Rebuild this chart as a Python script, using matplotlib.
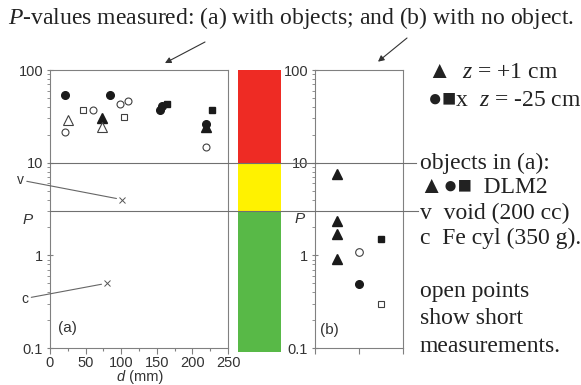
import numpy as np
import matplotlib.pyplot as plt
from matplotlib import transforms
from matplotlib.lines import Line2D
from matplotlib.ticker import FixedLocator, LogLocator, NullFormatter, FuncFormatter, MultipleLocator

plt.rcParams['font.family'] = 'Liberation Sans'
plt.rcParams['mathtext.fontset'] = 'custom'
plt.rcParams['mathtext.rm'] = 'Liberation Serif'
plt.rcParams['mathtext.it'] = 'Liberation Serif:italic'

#* panel (a): P vs distance d (mm), with objects
a_full_circle_d = [21, 84, 154, 157, 219]
a_full_circle_P = [54, 54, 37, 41, 26.4]
a_full_tri_d = [73, 219]
a_full_tri_P = [30, 24.2]
a_full_sq_d = [164, 228]
a_full_sq_P = [43.3, 37.3]
a_open_circle_d = [21, 60, 98, 109, 219]
a_open_circle_P = [21.4, 37, 43, 46, 14.6]
a_open_tri_d = [25, 73]
a_open_tri_P = [29, 24.2]
a_open_sq_d = [47, 104]
a_open_sq_P = [37.3, 31]
cross_labels = ['v', 'c']
cross_d = [101, 80]
cross_P = [4.0, 0.5]
cross_label_offsets = [(-73, 14), (-59, -11)]   # points

#* panel (b): no object, columns by marker type
b_tri_x = [0.5, 0.5, 0.5, 0.5]
b_tri_P = [7.6, 2.33, 1.71, 0.905]
b_full_circle_x = [1.0]
b_full_circle_P = [0.495]
b_open_circle_x = [1.0]
b_open_circle_P = [1.09]
b_full_sq_x = [1.5]
b_full_sq_P = [1.49]
b_open_sq_x = [1.5]
b_open_sq_P = [0.30]

#* colour bands and thresholds
band_lo = [0.09, 3, 10]
band_hi = [3, 10, 100]
band_colors = ['#58b947', '#fff200', '#ee2b24']
thresholds = [10, 3]
threshold_ends = [416, 418]   # pixels

W, H = 581, 385
fig = plt.figure(figsize=(W / 100, H / 100), dpi=100)

def px_axes(x0, y0, x1, y1):
    return fig.add_axes([x0 / W, 1 - y1 / H, (x1 - x0) / W, (y1 - y0) / H])

ax_a = px_axes(50, 70, 228, 348)
ax_bar = px_axes(238, 70, 281, 348)
ax_b = px_axes(315, 70, 403, 348)

GREY = '#808080'
TXT = '#333333'

def style_log_axes(ax):
    ax.set_yscale('log')
    ax.set_ylim(0.1, 100)
    for sp in ax.spines.values():
        sp.set_color(GREY)
        sp.set_linewidth(0.8)
    ax.yaxis.set_major_locator(FixedLocator([0.1, 1, 10, 100]))
    ax.yaxis.set_major_formatter(FuncFormatter(lambda v, p: f'{v:g}'))
    ax.yaxis.set_minor_locator(LogLocator(base=10, subs=np.arange(2, 10)))
    ax.yaxis.set_minor_formatter(NullFormatter())
    ax.tick_params(axis='y', which='major', direction='inout', length=5, width=0.8,
                   color=GREY, labelsize=10.5, labelcolor=TXT, pad=2.5)
    ax.tick_params(axis='y', which='minor', direction='out', length=2.5, width=0.6, color=GREY)
    ax.tick_params(axis='x', which='both', direction='out', color=GREY, width=0.8,
                   labelsize=10.5, labelcolor=TXT, pad=2)
    ax.tick_params(axis='x', which='major', length=4)
    ax.tick_params(axis='x', which='minor', length=2.5)
    ax.set_ylabel('P', rotation=0, fontstyle='italic', fontsize=11, color=TXT)
    ax.yaxis.label.set_va('center')

style_log_axes(ax_a)
style_log_axes(ax_b)

full = dict(ls='none', color='#1a1a1a')
hollow = dict(ls='none', mfc='white', mec='#404040', mew=0.8)

# (a)
ax_a.set_xlim(0, 250)
ax_a.xaxis.set_major_locator(MultipleLocator(50))
ax_a.xaxis.set_minor_locator(MultipleLocator(25))
ax_a.plot(a_full_circle_d, a_full_circle_P, marker='o', ms=5.5, **full)
ax_a.plot(a_full_tri_d, a_full_tri_P, marker='^', ms=6.5, **full)
ax_a.plot(a_full_sq_d, a_full_sq_P, marker='s', ms=5, **full)
ax_a.plot(a_open_circle_d, a_open_circle_P, marker='o', ms=5, **hollow)
ax_a.plot(a_open_tri_d, a_open_tri_P, marker='^', ms=6.5, **hollow)
ax_a.plot(a_open_sq_d, a_open_sq_P, marker='s', ms=5, **hollow)
ax_a.plot(cross_d, cross_P, ls='none', marker='x', ms=4.5, mew=0.7, color='#555555')
for lab, d, p, off in zip(cross_labels, cross_d, cross_P, cross_label_offsets):
    ax_a.annotate(lab, xy=(d, p), xytext=off, textcoords='offset points',
                  ha='center', va='center', fontsize=10, color=TXT,
                  arrowprops=dict(arrowstyle='-', color='#666666', lw=0.8, shrinkA=0, shrinkB=4))
# x label: italic d followed by upright units, sitting just under the tick labels
ax_a.text(0.421, -0.119, 'd', transform=ax_a.transAxes, ha='right', va='baseline',
          fontsize=10.5, fontstyle='italic', color=TXT)
ax_a.text(0.421, -0.119, ' (mm)', transform=ax_a.transAxes, ha='left', va='baseline',
          fontsize=10.5, color=TXT)
ax_a.yaxis.set_label_coords(-0.124, 0.46)
ax_a.text(0.096, 0.072, '(a)', transform=ax_a.transAxes, ha='center', va='center',
          fontsize=11, color=TXT)

# (b)
ax_b.set_xlim(0, 2)
ax_b.xaxis.set_major_locator(FixedLocator([0, 1, 2]))
ax_b.tick_params(axis='x', labelbottom=False)
ax_b.plot(b_tri_x, b_tri_P, marker='^', ms=7.5, **full)
ax_b.plot(b_full_circle_x, b_full_circle_P, marker='o', ms=5.5, **full)
ax_b.plot(b_open_circle_x, b_open_circle_P, marker='o', ms=5.5, **hollow)
ax_b.plot(b_full_sq_x, b_full_sq_P, marker='s', ms=5, **full)
ax_b.plot(b_open_sq_x, b_open_sq_P, marker='s', ms=5, **hollow)
ax_b.yaxis.set_label_coords(-0.17, 0.464)
ax_b.text(0.16, 0.065, '(b)', transform=ax_b.transAxes, ha='center', va='center',
          fontsize=11, color=TXT)

# colour bar between the panels
ax_bar.set_yscale('log')
ax_bar.set_ylim(0.1, 100)
ax_bar.set_xlim(-0.5, 0.5)
ax_bar.bar([0] * 3, np.array(band_hi) - np.array(band_lo), bottom=band_lo, width=1,
           color=band_colors, clip_on=False)
ax_bar.axis('off')

# threshold lines running across both panels
blend = transforms.blended_transform_factory(fig.transFigure, ax_a.transData)
for p, x_end in zip(thresholds, threshold_ends):
    fig.add_artist(Line2D([50 / W, x_end / W], [p, p], transform=blend,
                          color='#707070', lw=0.8))

# caption and pointers
serif = ['Liberation Serif', 'DejaVu Sans']
fig.text(0.5, 1 - 18 / H, r'$\mathit{P}$-values measured: (a) with objects; and (b) with no object.',
         ha='center', va='center', fontsize=17, family='Liberation Serif', color='#222222')
arrow = dict(arrowstyle='-|>,head_length=0.35,head_width=0.18', color='#333333', lw=0.8,
             shrinkA=0, shrinkB=0)
ax_a.annotate('', xy=(0.646, 1.025), xycoords='axes fraction',
              xytext=(205, H - 42), textcoords='figure pixels', arrowprops=arrow)
ax_b.annotate('', xy=(0.716, 1.03), xycoords='axes fraction',
              xytext=(407, H - 38), textcoords='figure pixels', arrowprops=arrow)

# legend notes on the right
top_rows = ['\u25b2  $z$ = +1 cm', '\u25cf\u25a0x  $z$ = -25 cm']
top_y = [73, 101]
for s, y in zip(top_rows, top_y):
    fig.text(427 / W, 1 - y / H, s, ha='left', va='center', fontsize=17,
             family='Liberation Serif', color='#222222')
note_rows = ['objects in (a):', '\u25b2\u25cf\u25a0  DLM2', 'v  void (200 cc)',
             'c  Fe cyl (350 g).', 'open points', 'show short', 'measurements.']
note_y = [163, 188, 213, 238, 291, 319, 346]
for s, y in zip(note_rows, note_y):
    fig.text(420 / W, 1 - y / H, s, ha='left', va='center', fontsize=17,
             family=serif, color='#222222')

fig.savefig('out.png', dpi=100)
